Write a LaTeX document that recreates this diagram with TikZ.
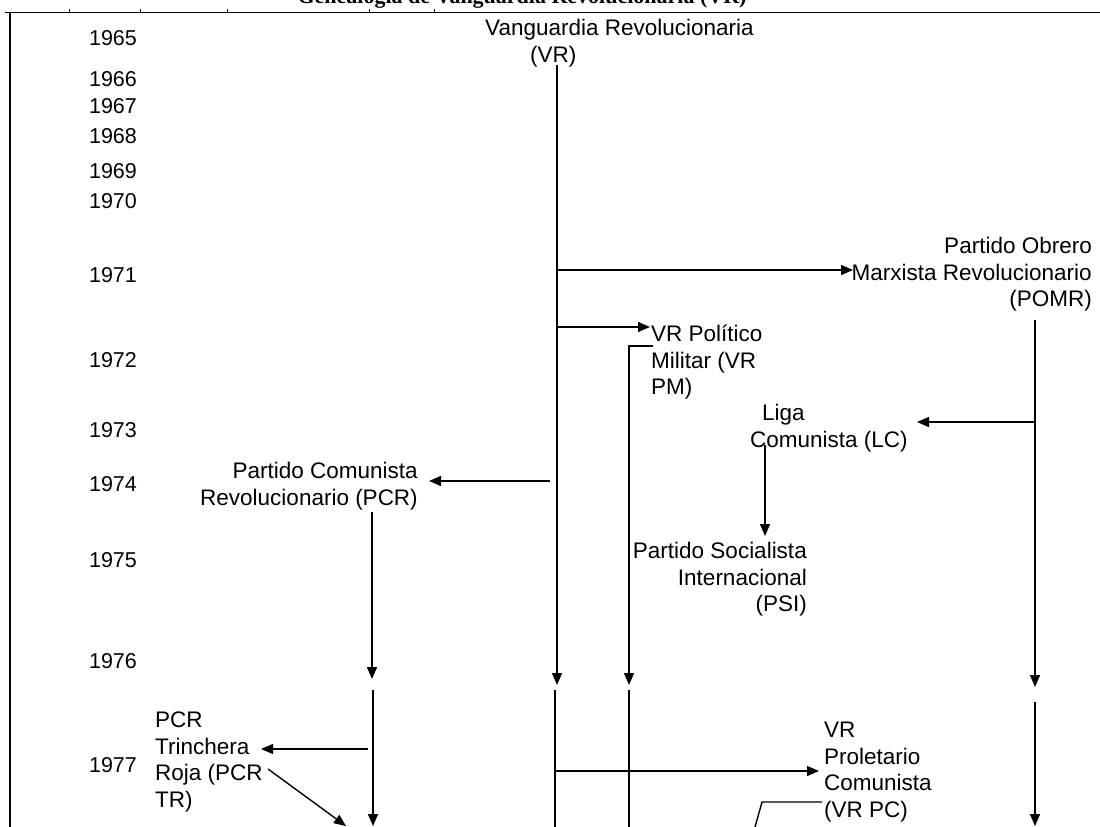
\documentclass[tikz,border=0pt]{standalone}
\usepackage{fontspec}
\setmainfont{Liberation Sans}
\newfontfamily\titlefont{Liberation Serif}
\usetikzlibrary{arrows.meta}
\begin{document}
\begin{tikzpicture}[x=1pt,y=-1pt,
  lbl/.style={inner sep=0pt, font=\fontsize{22.5}{26.5}\selectfont},
  yr/.style={inner sep=0pt, font=\fontsize{21.5}{26}\selectfont, anchor=center},
  ln/.style={line width=1.4pt},
  arr/.style={ln, -{Triangle[length=12pt,width=10pt]}}]
\useasboundingbox (0,0) rectangle (1100,827);
\fill[white] (0,0) rectangle (1100,827);
% title (cut by the page top)
\node[anchor=base, inner sep=0pt, font=\titlefont\bfseries\fontsize{22}{24}\selectfont] (title) at (522,4) {Genealogía de Vanguardia Revolucionaria (VR)};
% frame
\coordinate (fTL) at (10,12);
\coordinate (fTR) at (1100,12);
\coordinate (fT0) at (5,12);
\coordinate (fBL) at (10,827);
\draw[line width=0.9pt] (fT0) -- (fTR);
\draw[line width=2pt] (fTL) -- (fBL);
\foreach \tx in {69,140,227,369,434} {
  \coordinate (tk\tx) at (\tx,9);
  \draw[line width=0.6pt] (tk\tx) -- (\tx,12);
}
% years
\foreach \yy/\pos in {1965/38,1966/79,1967/106,1968/136,1969/171,1970/201,1971/275,1972/360,1973/430,1974/484,1975/560,1976/661,1977/765}
  \node[yr] (y\yy) at (113,\pos) {\yy};
% nodes
\node[lbl, align=left, anchor=north west] (vr) at (485,19) {Vanguardia Revolucionaria\\\hspace*{45pt}(VR)};
\node[lbl, align=right, anchor=north east] (pomr) at (1092,237) {Partido Obrero\\Marxista Revolucionario\\(POMR)};
\node[lbl, align=left, anchor=north west] (vrpm) at (651,325) {VR Político\\Militar (VR\\PM)};
\node[lbl, align=left, anchor=north west] (lc) at (750,404) {\hspace*{12pt}Liga\\Comunista (LC)};
\node[lbl, align=right, anchor=north east] (psi) at (807,542) {Partido Socialista\\Internacional\\(PSI)};
\node[lbl, align=right, anchor=north east] (pcr) at (418,462) {Partido Comunista\\Revolucionario (PCR)};
\node[lbl, align=left, anchor=north west] (pcrtr) at (155,712) {PCR\\Trinchera\\Roja (PCR\\TR)};
\node[lbl, align=left, anchor=north west] (vrpc) at (824,722) {VR\\Proletario\\Comunista\\(VR PC)};
% VR trunk
\coordinate (vrA) at (557,65);
\coordinate (vrB) at (557,685);
\coordinate (vrC) at (555,690);
\coordinate (vrD) at (555,827);
\draw[arr] (vrA) -- (vrB);
\draw[ln] (vrC) -- (vrD);
% VR -> POMR
\coordinate (vrPomr) at (557,270);
\coordinate (pomrIn) at (853,270);
\draw[arr] (vrPomr) -- (pomrIn);
% VR -> VR PM
\coordinate (vrPm) at (557,327);
\coordinate (vrpmIn) at (650,327);
\draw[arr] (vrPm) -- (vrpmIn);
% VR PM line
\coordinate (pmA) at (653,346);
\coordinate (pmB) at (629,346);
\coordinate (pmC) at (629,685);
\coordinate (pmD) at (629,690);
\coordinate (pmE) at (629,827);
\draw[arr] (pmA) -- (pmB) -- (pmC);
\draw[ln] (pmD) -- (pmE);
% POMR line
\coordinate (poA) at (1035,320);
\coordinate (poB) at (1035,687);
\coordinate (poC) at (1035,702);
\coordinate (poD) at (1035,826);
\draw[arr] (poA) -- (poB);
\draw[arr] (poC) -- (poD);
% POMR -> LC
\coordinate (poLc) at (1035,422);
\coordinate (lcIn) at (917,422);
\draw[arr] (poLc) -- (lcIn);
% LC -> PSI
\coordinate (lcA) at (765,445);
\coordinate (psiIn) at (765,536);
\draw[arr] (lcA) -- (psiIn);
% VR -> PCR
\coordinate (vrPcr) at (550,481);
\coordinate (pcrIn) at (429,481);
\draw[arr] (vrPcr) -- (pcrIn);
% PCR line
\coordinate (pcA) at (372,512);
\coordinate (pcB) at (372,679);
\coordinate (pcC) at (373,690);
\coordinate (pcD) at (373,826);
\draw[arr] (pcA) -- (pcB);
\draw[arr] (pcC) -- (pcD);
% PCR -> PCR TR
\coordinate (pcTr) at (368,749);
\coordinate (trIn) at (261,749);
\draw[arr] (pcTr) -- (trIn);
% PCR TR -> PCR (diagonal)
\coordinate (trA) at (268,769);
\coordinate (trB) at (346,826);
\draw[arr] (trA) -- (trB);
% VR -> VR PC
\coordinate (vrPc) at (555,771);
\coordinate (pcIn) at (819,771);
\draw[arr] (vrPc) -- (pcIn);
% VR PC line
\coordinate (vcA) at (822,802);
\coordinate (vcB) at (762,802);
\coordinate (vcC) at (755,827);
\draw[ln] (vcA) -- (vcB) -- (vcC);
\end{tikzpicture}
\end{document}
